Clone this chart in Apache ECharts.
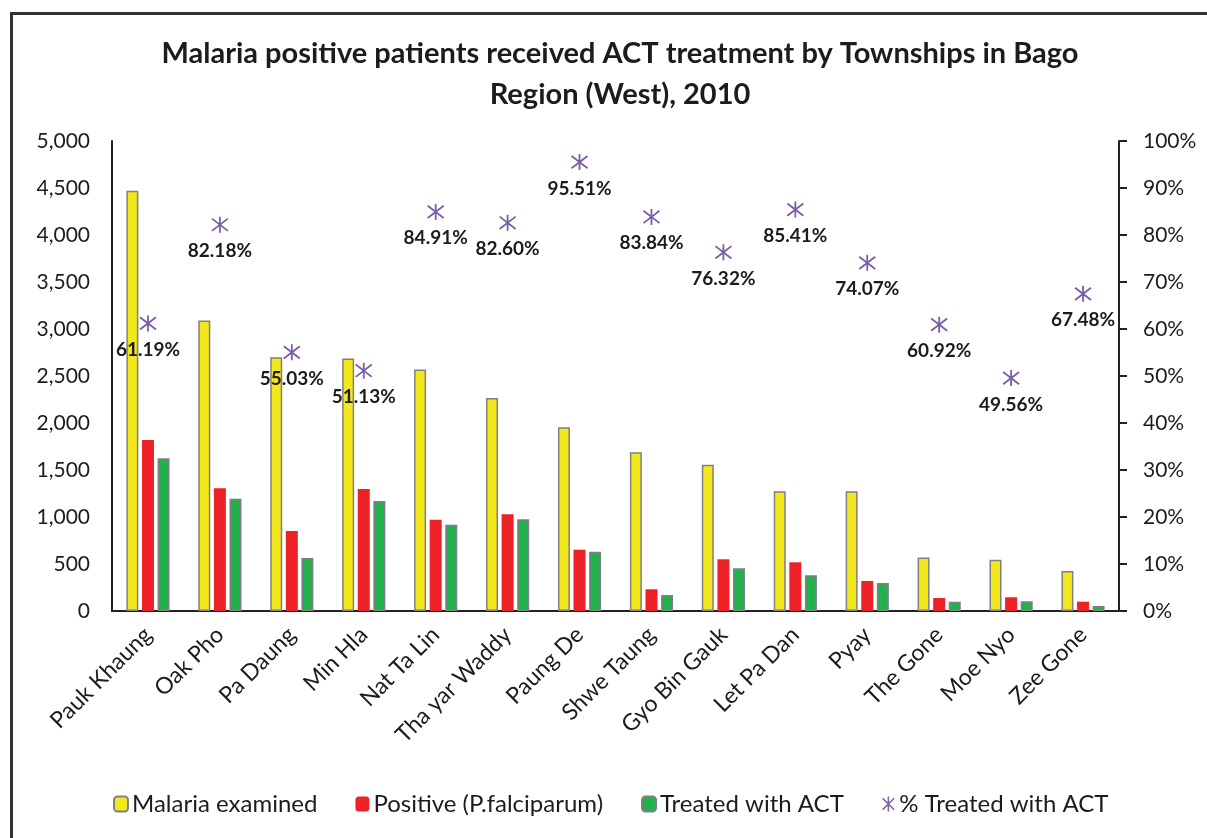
<!DOCTYPE html>
<html>
<head>
<meta charset="utf-8">
<script src="https://cdn.jsdelivr.net/npm/echarts@6/dist/echarts.min.js"></script>
<style>
  html, body { margin: 0; padding: 0; background: #fff; }
  #frame { position: absolute; left: 10px; top: 12px; width: 1210px; height: 840px;
    border-left: 3px solid #333; border-top: 3px solid #333; }
  #myChart { position: absolute; left: 0; top: 0; width: 1207px; height: 838px; }
</style>
</head>
<body>
<div id="frame"></div>
<div id="myChart"></div>
<script>
// townships
var townships = ["Pauk Khaung", "Oak Pho", "Pa Daung", "Min Hla", "Nat Ta Lin", "Tha yar Waddy",
  "Paung De", "Shwe Taung", "Gyo Bin Gauk", "Let Pa Dan", "Pyay", "The Gone", "Moe Nyo", "Zee Gone"];
// counts
var examined = [4470, 3090, 2700, 2685, 2570, 2265, 1955, 1690, 1555, 1275, 1275, 570, 545, 425];
var positive = [1820, 1305, 850, 1298, 970, 1030, 652, 231, 550, 518, 319, 138, 146, 99];
var treated = [1625, 1195, 564, 1170, 918, 976, 631, 170, 454, 380, 298, 99, 104, 53];
// percent treated
var pctTreated = [61.19, 82.18, 55.03, 51.13, 84.91, 82.60, 95.51, 83.84, 76.32, 85.41, 74.07, 60.92, 49.56, 67.48];

var font = "Lato, 'Open Sans', sans-serif";
var txt = "#1e1b1c";
var star = "path://M0,0L10,10M10,0L0,10M5,-1.5L5,11.5";

var myChart = echarts.init(document.getElementById("myChart"));
myChart.setOption({
  textStyle: { fontFamily: font },
  title: {
    text: "Malaria positive patients received ACT treatment by Townships in Bago\nRegion (West), 2010",
    left: 615,
    textAlign: "center",
    top: 28,
    textStyle: { fontSize: 29, fontWeight: "bold", color: txt, lineHeight: 41, fontFamily: font }
  },
  legend: {
    bottom: 17,
    left: 108,
    itemGap: 38,
    itemWidth: 14,
    itemHeight: 15,
    selectedMode: false,
    textStyle: { fontSize: 24, color: txt, fontFamily: font, padding: [0, 0, 0, -1] },
    data: [
      { name: "Malaria examined" },
      { name: "Positive (P.falciparum)" },
      { name: "Treated with ACT" },
      { name: "% Treated with ACT", icon: star, itemStyle: { color: "transparent", borderColor: "#7b5ea7", borderWidth: 1.5 } }
    ]
  },
  grid: { left: 112, right: 88, top: 141, bottom: 227, containLabel: false },
  xAxis: {
    type: "category",
    data: townships,
    axisLine: { lineStyle: { color: "#222", width: 2 } },
    axisTick: { show: false },
    axisLabel: { rotate: 45, fontSize: 23, color: txt, margin: 20, interval: 0 }
  },
  yAxis: [
    {
      type: "value",
      min: 0,
      max: 5000,
      interval: 500,
      splitLine: { show: false },
      axisLine: { show: true, lineStyle: { color: "#222", width: 2 } },
      axisTick: { show: false },
      axisLabel: {
        fontSize: 21, color: txt, margin: 22,
        formatter: function (v) { return v.toLocaleString("en-US"); }
      }
    },
    {
      type: "value",
      min: 0,
      max: 100,
      interval: 10,
      position: "right",
      splitLine: { show: false },
      axisLine: { show: true, lineStyle: { color: "#222", width: 2 } },
      axisTick: { show: true, length: 8, lineStyle: { color: "#222", width: 2 } },
      axisLabel: { fontSize: 21, color: txt, margin: 24, formatter: "{value}%" }
    }
  ],
  series: [
    {
      name: "Malaria examined",
      type: "bar",
      barWidth: 12,
      barGap: "30%",
      data: examined,
      itemStyle: { color: "#f2e81c", borderColor: "#808080", borderWidth: 1.5 }
    },
    {
      name: "Positive (P.falciparum)",
      type: "bar",
      barWidth: 12,
      barGap: "30%",
      data: positive,
      itemStyle: { color: "#ec2227" }
    },
    {
      name: "Treated with ACT",
      type: "bar",
      barWidth: 12,
      barGap: "30%",
      data: treated,
      itemStyle: { color: "#22b04c", borderColor: "#808080", borderWidth: 1.5 }
    },
    {
      name: "% Treated with ACT",
      type: "scatter",
      yAxisIndex: 1,
      data: pctTreated,
      symbol: star,
      symbolSize: 16,
      itemStyle: { color: "transparent", borderColor: "#7b5ea7", borderWidth: 1.8, opacity: 1 },
      label: {
        show: true,
        position: "bottom",
        distance: 8,
        fontSize: 19,
        fontWeight: "bold",
        color: "#1e1b1c",
        opacity: 1,
        formatter: function (p) { return p.value.toFixed(2) + "%"; }
      }
    }
  ]
});
</script>
</body>
</html>
